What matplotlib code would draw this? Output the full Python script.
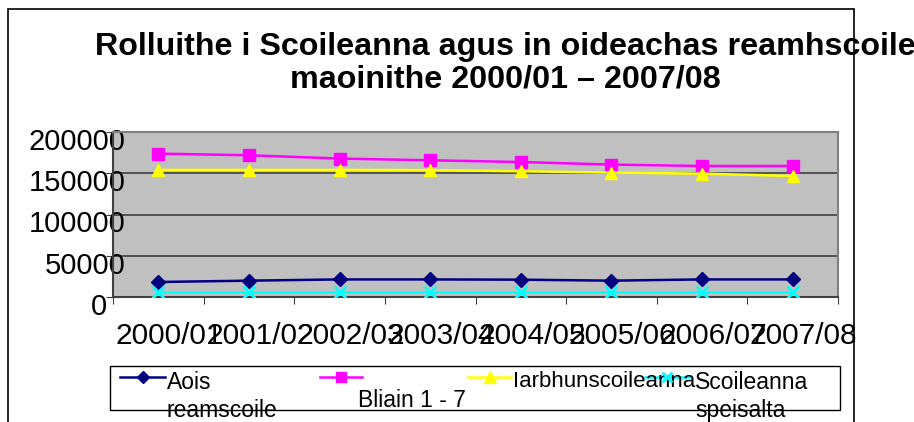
import matplotlib
matplotlib.use("Agg")
import matplotlib.pyplot as plt
from matplotlib.lines import Line2D
from matplotlib.patches import Rectangle
from matplotlib.transforms import ScaledTranslation

plt.rcParams['font.family'] = ['Liberation Sans', 'DejaVu Sans']

years = ['2000/01', '2001/02', '2002/03', '2003/04', '2004/05', '2005/06', '2006/07', '2007/08']
aois_reamscoile = [18200, 19800, 21300, 21300, 21000, 19800, 21300, 21300]
bliain_1_7 = [173800, 171800, 167800, 165700, 163600, 160500, 158800, 158800]
iarbhunscoileanna = [154000, 154000, 154000, 153800, 152400, 150800, 149500, 146700]
scoileanna_speisalta = [5800, 5800, 5800, 5800, 5800, 5800, 5800, 5800]
y_ticks = [0, 50000, 100000, 150000, 200000]

series = [
    ('Aois\nreamscoile', aois_reamscoile, '#000080', 'D', 7),
    ('Bliain 1 - 7', bliain_1_7, '#FF00FF', 's', 8),
    ('Iarbhunscoileanna', iarbhunscoileanna, '#FFFF00', '^', 9),
    ('Scoileanna\nspeisalta', scoileanna_speisalta, '#00FFFF', 'x', 8),
]

W, H = 914, 422
fig = plt.figure(figsize=(W / 100, H / 100), dpi=100)


def fx(x):
    return x / W


def fy(y):
    return 1 - y / H


# outer chart border
fig.add_artist(Rectangle((fx(8), fy(480)), fx(854) - fx(8), fy(9) - fy(480),
                         transform=fig.transFigure, fill=False, edgecolor='black', lw=1.2))

ax = fig.add_axes([fx(113), fy(297), fx(838) - fx(113), fy(132) - fy(297)])
ax.set_facecolor('#C0C0C0')
x = list(range(len(years)))
for name, vals, color, marker, ms in series:
    mew = 2 if marker == 'x' else 1
    ax.plot(x, vals, color=color, marker=marker, markersize=ms, lw=1.8,
            markeredgewidth=mew, zorder=3)

ax.set_xlim(-0.5, len(years) - 0.5)
ax.set_ylim(0, 200000)
ax.set_yticks(y_ticks)
ax.set_yticklabels([str(v) for v in y_ticks], fontsize=21)
ax.set_xticks([i - 0.5 for i in range(len(years) + 1)])
ax.set_xticklabels([])
ax.set_xticks(x, minor=True)
ax.set_xticklabels(years, minor=True, fontsize=21.5)
ax.tick_params(axis='x', which='major', length=5, color='#404040', direction='out')
ax.tick_params(axis='x', which='minor', length=0, pad=18)
ax.tick_params(axis='y', length=5, color='#404040', pad=-14)
ax.grid(axis='y', color='#404040', lw=1.2)
ax.set_axisbelow(True)
for s in ax.spines.values():
    s.set_color('#808080')
    s.set_linewidth(1.5)
ax.spines['left'].set_color('#404040')
ax.spines['bottom'].set_color('#404040')

# the original labels sit a little right of / below their tick positions
for lab in ax.get_xticklabels(minor=True):
    lab.set_transform(lab.get_transform() + ScaledTranslation(11 / 100, 0, fig.dpi_scale_trans))
for lab in ax.get_yticklabels():
    dx = -18 if lab.get_text() == '0' else 0
    lab.set_transform(lab.get_transform() + ScaledTranslation(dx / 100, -7 / 100, fig.dpi_scale_trans))

fig.text(fx(505), fy(47), 'Rolluithe i Scoileanna agus in oideachas reamhscoile',
         ha='center', va='center', fontsize=23.2, fontweight='bold')
fig.text(fx(505), fy(80), 'maoinithe 2000/01 \u2013 2007/08',
         ha='center', va='center', fontsize=23.2, fontweight='bold')

# legend box drawn by hand to follow the original placement
fig.add_artist(Rectangle((fx(110), fy(410)), fx(840) - fx(110), fy(366) - fy(410),
                         transform=fig.transFigure, fill=True, facecolor='white',
                         edgecolor='black', lw=1.0, zorder=1))
handle_x = [(120, 165), (320, 362), (468, 511), (645, 689)]
for (name, vals, color, marker, ms), (x0, x1) in zip(series, handle_x):
    mew = 2 if marker == 'x' else 1
    fig.add_artist(Line2D([fx(x0), fx(x1)], [fy(377), fy(377)], transform=fig.transFigure,
                          color=color, lw=1.8, zorder=2))
    fig.add_artist(Line2D([fx((x0 + x1) / 2)], [fy(377)], transform=fig.transFigure,
                          color=color, marker=marker, markersize=ms - 1, markeredgewidth=mew,
                          zorder=4))

fig.text(fx(167), fy(389), 'Aois', fontsize=16.5, va='baseline', zorder=3)
fig.text(fx(167), fy(417), 'reamscoile', fontsize=16.5, va='baseline', zorder=3)
fig.text(fx(358), fy(407), 'Bliain 1 - 7', fontsize=16.5, va='baseline', zorder=3)
fig.text(fx(513), fy(387), 'Iarbhunscoileanna', fontsize=16, va='baseline', zorder=3)
fig.text(fx(695), fy(389), 'Scoileanna', fontsize=16.5, va='baseline', zorder=3)
fig.text(fx(695), fy(417), 'speisalta', fontsize=16.5, va='baseline', zorder=3)

fig.savefig('out.png', dpi=100)
